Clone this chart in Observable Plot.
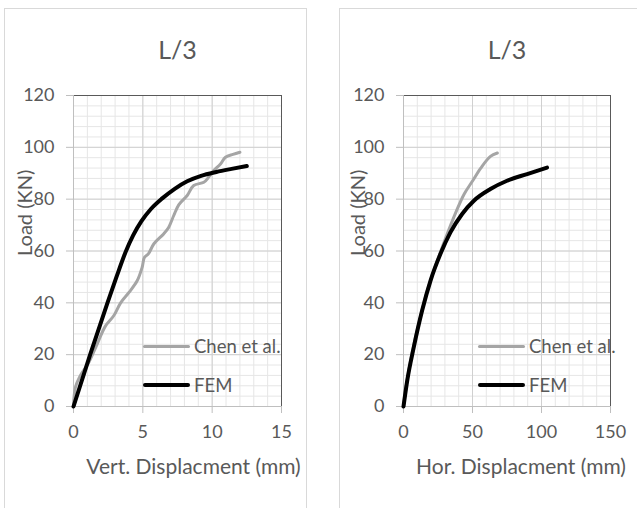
<!DOCTYPE html>
<html><head><meta charset="utf-8">
<script src="https://cdn.jsdelivr.net/npm/d3@7"></script>
<script src="https://cdn.jsdelivr.net/npm/@observablehq/plot@0.6"></script>
<style>
body{margin:0;background:#fff;}
#wrap{position:relative;width:637px;height:508px;overflow:hidden;background:#fff;font-family:Lato,sans-serif;}
.panel{position:absolute;border:1px solid #d9d9d9;box-sizing:border-box;}
.chart{position:absolute;top:0;}
.leg{position:absolute;display:flex;align-items:center;font:18.5px Lato,sans-serif;color:#595959;white-space:nowrap;}
.leg span.sw{display:inline-block;width:47px;margin-right:4px;border-radius:2px;}
</style></head><body>
<div id="wrap">
 <div class="panel" style="left:4px;top:8px;width:303px;height:520px"></div>
 <div class="panel" style="left:339px;top:8px;width:320px;height:520px"></div>
 <div id="c1" class="chart" style="left:0"></div>
 <div id="c2" class="chart" style="left:318px"></div>
</div>
<script>
// ---- data ----
const seriesNames = ["Chen et al.", "FEM"];
const seriesColors = ["#a5a5a5", "#000000"];
const panelTitles = ["L/3", "L/3"];
const xLabels = ["Vert. Displacment (mm)", "Hor. Displacment (mm)"];
const yLabel = "Load (KN)";
const yTicks = [0, 20, 40, 60, 80, 100, 120];
const xTicksVert = [0, 5, 10, 15];
const xTicksHor = [0, 50, 100, 150];

// Vertical displacement (mm) vs load (kN)
const vertChenX = [0, 0.14, 0.5, 1.1, 1.7, 2.3, 2.9, 3.4, 4.0, 4.6, 4.95, 5.12, 5.4, 5.8, 6.5, 6.87, 7.23, 7.6, 8.2, 8.67, 9.4, 9.75, 10.1, 10.6, 10.96, 11.5, 12.0];
const vertChenY = [0, 7.4, 12, 17, 24, 31, 35, 40, 44, 48.6, 53.7, 57.6, 58.9, 62.8, 66.6, 69.2, 73.7, 77.9, 81.4, 85.3, 86.5, 88.5, 91, 93.6, 96.2, 97.3, 98.1];
const vertFemX = [0, 1.2, 2.45, 3.1, 3.75, 4.3, 4.9, 5.6, 6.4, 7.3, 8.2, 9.2, 10.3, 11.4, 12.5];
const vertFemY = [0, 20, 40, 50, 59.5, 66, 71.5, 76.3, 80.3, 84, 86.9, 89, 90.5, 91.7, 92.8];

// Horizontal displacement (mm) vs load (kN)
const horChenX = [0, 2, 6, 12, 18, 25, 32, 38, 44, 50, 56, 63, 68];
const horChenY = [0, 8, 20, 34, 46, 57, 67, 75, 82, 87, 92, 96.5, 97.8];
const horFemX = [0, 2.7, 7.5, 13.5, 19.6, 26.8, 34, 42.5, 51, 63, 75, 89.6, 104];
const horFemY = [0, 10, 23, 37, 48.6, 58.9, 67.2, 74.3, 79.4, 83.9, 87.1, 89.7, 92.2];

const toRows = (xs, ys) => xs.map((x, i) => ({x, y: ys[i]}));

function makeChart(o) {
  const chen = toRows(o.chenX, o.chenY);
  const fem = toRows(o.femX, o.femY);
  return Plot.plot({
    width: o.width, height: 508,
    marginLeft: o.ml, marginRight: o.mr, marginTop: 95, marginBottom: 102,
    style: {fontFamily: "Lato, sans-serif", color: "#595959", background: "transparent", overflow: "visible"},
    x: {domain: [o.xTicks[0], o.xTicks[o.xTicks.length - 1]]},
    y: {domain: [0, 120]},
    marks: [
      Plot.gridX({interval: o.minorX, stroke: "#e6e6e6", strokeOpacity: 1}),
      Plot.gridY({interval: 4, stroke: "#e6e6e6", strokeOpacity: 1}),
      Plot.gridX(o.xTicks, {stroke: "#d0d0d0", strokeOpacity: 1}),
      Plot.gridY(yTicks, {stroke: "#d0d0d0", strokeOpacity: 1}),
      Plot.ruleY([120], {stroke: "#595959"}),
      Plot.ruleX([o.xTicks[o.xTicks.length - 1]], {stroke: "#595959"}),
      Plot.ruleX([0], {stroke: "#bfbfbf"}),
      Plot.ruleY([0], {stroke: "#bfbfbf"}),
      Plot.axisY(yTicks, {tickSize: 7, tickPadding: 12, stroke: "#bfbfbf", fill: "#595959", fontSize: 18, label: null}),
      Plot.axisX(o.xTicks, {tickSize: 7, tickPadding: 12, stroke: "#bfbfbf", fill: "#595959", fontSize: 18, label: null}),
      Plot.line(chen, {x: "x", y: "y", stroke: seriesColors[0], strokeWidth: 3, curve: "catmull-rom"}),
      Plot.line(fem, {x: "x", y: "y", stroke: seriesColors[1], strokeWidth: 4, curve: "monotone-x"}),
      Plot.text([o.title], {frameAnchor: "top", lineAnchor: "middle", dy: -45, fontSize: 25, fill: "#595959"}),
      Plot.text([o.xLabel], {frameAnchor: "bottom", lineAnchor: "middle", dy: 61, dx: o.xlDx, fontSize: 21, fill: "#595959"}),
      Plot.text([yLabel], {frameAnchor: "left", lineAnchor: "middle", rotate: -90, dx: o.ylDx, dy: 5, fontSize: 20, fill: "#595959"})
    ]
  });
}

document.getElementById("c1").appendChild(makeChart({
  width: 318, ml: 73, mr: 37, xTicks: xTicksVert, minorX: 1,
  chenX: vertChenX, chenY: vertChenY, femX: vertFemX, femY: vertFemY,
  title: panelTitles[0], xLabel: xLabels[0], xlDx: 16, ylDx: -48
}));
document.getElementById("c2").appendChild(makeChart({
  width: 319, ml: 85, mr: 27, xTicks: xTicksHor, minorX: 10,
  chenX: horChenX, chenY: horChenY, femX: horFemX, femY: horFemY,
  title: panelTitles[1], xLabel: xLabels[1], xlDx: 14, ylDx: -45
}));

// legends (HTML overlays)
const wrap = document.getElementById("wrap");
[143, 478].forEach(left => {
  seriesNames.forEach((name, i) => {
    const d = document.createElement("div");
    d.className = "leg";
    d.style.left = left + "px";
    d.style.top = (i === 0 ? 335 : 374) + "px";
    d.style.height = "22px";
    d.innerHTML = `<span class="sw" style="height:${i === 0 ? 3 : 4}px;background:${seriesColors[i]}"></span>${name}`;
    wrap.appendChild(d);
  });
});
</script>
</body></html>
